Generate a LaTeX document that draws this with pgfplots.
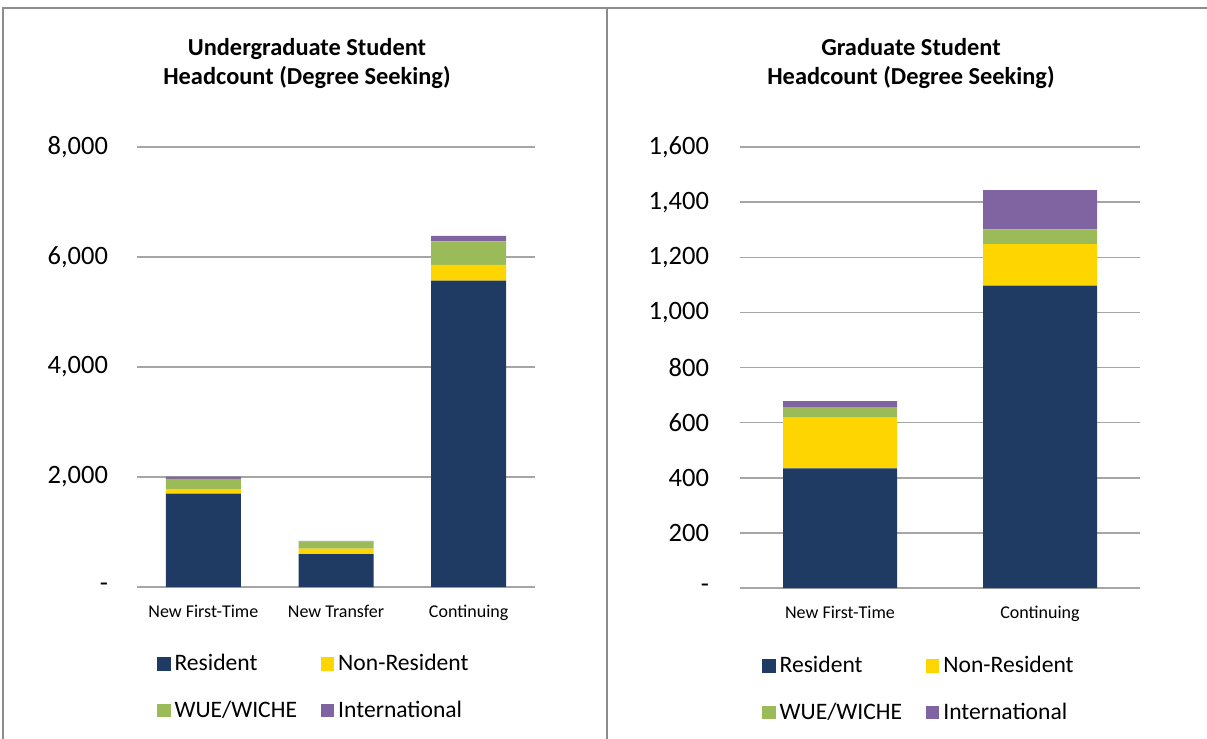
\documentclass[border=0pt]{standalone}
\usepackage{pgfplots}
\pgfplotsset{compat=1.18}
\usepackage{fontspec}
\setmainfont{Carlito}
\definecolor{res}{HTML}{1F3B63}
\definecolor{nonres}{HTML}{FFD500}
\definecolor{wue}{HTML}{9BBB59}
\definecolor{intl}{HTML}{8064A2}
\definecolor{gridc}{HTML}{A6A6A6}
\definecolor{framec}{HTML}{8C8C8C}
\pgfplotsset{
  panel/.style={
    scale only axis,
    ybar stacked,
    axis line style={draw=none},
    major tick length=0pt,
    ymajorgrids,
    grid style={gridc, line width=0.75pt},
    ymin=0,
    xtick=data,
    yticklabel style={font=\fontsize{13.25}{15}\selectfont, anchor=east},
    xticklabel style={font=\fontsize{9}{11}\selectfont, yshift=-5.5pt},
    legend columns=2,
    legend cell align=left,
    legend style={draw=none, fill=none, inner sep=0pt,
      font=\fontsize{11.8}{13}\selectfont, row sep=9.5pt,
      /tikz/every even column/.append style={column sep=10pt}},
    legend image code/.code={\fill[##1,draw=none] (0pt,-3.3pt) rectangle (6.6pt,3.3pt);},
  },
}
\begin{document}
\begin{tikzpicture}
\useasboundingbox (0,0) rectangle (603.5pt,-369.5pt);
\begin{scope}[x=0.5pt,y=-0.5pt]
\draw[framec, line width=1.2pt] (3,739) -- (3,8) -- (1207,8);
\draw[framec, line width=1.2pt] (607,8) -- (607,739);
\node[anchor=base, font=\fontsize{12.2}{14}\selectfont\bfseries] at (307,55) {Undergraduate Student};
\node[anchor=base, font=\fontsize{12.2}{14}\selectfont\bfseries] at (307,84) {Headcount (Degree Seeking)};
\node[anchor=base, font=\fontsize{12.2}{14}\selectfont\bfseries] at (911,55) {Graduate Student};
\node[anchor=base, font=\fontsize{12.2}{14}\selectfont\bfseries] at (911,84) {Headcount (Degree Seeking)};
\end{scope}

\begin{axis}[panel,
  at={(68.5pt,-293.5pt)}, anchor=south west,
  width=199pt, height=220pt,
  xmin=-0.5, xmax=2.5, ymax=8000,
  bar width=37.5pt,
  ytick={0,2000,4000,6000,8000},
  yticklabels={-,{2,000},{4,000},{6,000},{8,000}},
  yticklabel style={xshift=-11pt},
  xticklabels={New First-Time,New Transfer,Continuing},
  legend style={at={(0.05,-0.143)}, anchor=north west},
]
\addplot[fill=res, draw=none] coordinates {(0,1700) (1,600) (2,5570)};
\addplot[fill=nonres, draw=none] coordinates {(0,80) (1,100) (2,285)};
\addplot[fill=wue, draw=none] coordinates {(0,185) (1,130) (2,430)};
\addplot[fill=intl, draw=none] coordinates {(0,40) (1,10) (2,100)};
\legend{Resident,Non-Resident,WUE/WICHE,International}
\end{axis}

\begin{axis}[panel,
  at={(370pt,-294pt)}, anchor=south west,
  width=200pt, height=220.5pt,
  xmin=-0.5, xmax=1.5, ymax=1600,
  bar width=57pt,
  ytick={0,200,400,600,800,1000,1200,1400,1600},
  yticklabels={-,200,400,600,800,{1,000},{1,200},{1,400},{1,600}},
  yticklabel style={xshift=-12pt},
  xticklabels={New First-Time,Continuing},
  legend style={at={(0.055,-0.145)}, anchor=north west},
]
\addplot[fill=res, draw=none] coordinates {(0,434) (1,1097)};
\addplot[fill=nonres, draw=none] coordinates {(0,184) (1,151)};
\addplot[fill=wue, draw=none] coordinates {(0,36) (1,53)};
\addplot[fill=intl, draw=none] coordinates {(0,24) (1,143)};
\legend{Resident,Non-Resident,WUE/WICHE,International}
\end{axis}
\end{tikzpicture}
\end{document}
